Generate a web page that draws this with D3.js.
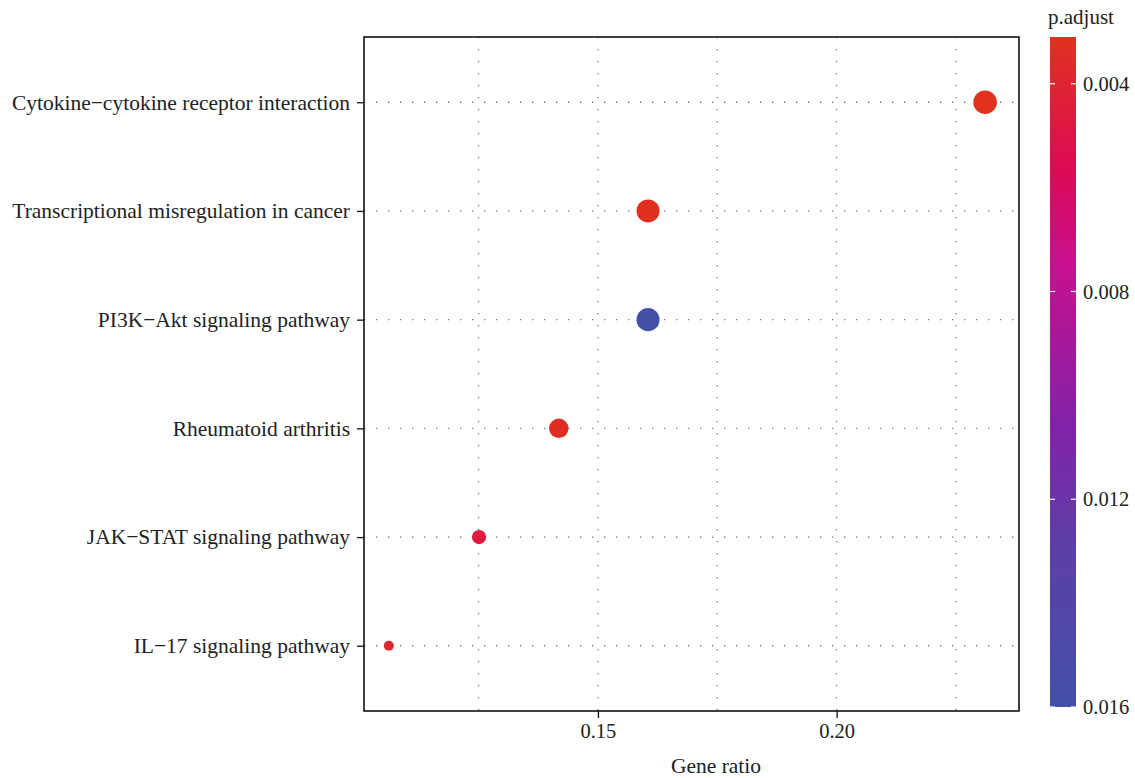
<!DOCTYPE html>
<html>
<head>
<meta charset="utf-8">
<script src="https://cdn.jsdelivr.net/npm/d3@7"></script>
<style>
  body { margin: 0; background: #fff; }
  text { font-family: "Liberation Serif", "DejaVu Serif", serif; fill: #222; }
</style>
</head>
<body>
<svg id="dotplot" width="1135" height="778"></svg>
<script>
// pathways, top to bottom
const pathways = [
  "Cytokine\u2212cytokine receptor interaction",
  "Transcriptional misregulation in cancer",
  "PI3K\u2212Akt signaling pathway",
  "Rheumatoid arthritis",
  "JAK\u2212STAT signaling pathway",
  "IL\u221217 signaling pathway"
]
const geneRatio = [0.2311, 0.1605, 0.1605, 0.1418, 0.1251, 0.1062]
const geneCount = [22, 21, 21, 15, 8, 4]
const pAdjust = [0.0031, 0.0032, 0.0160, 0.0034, 0.0046, 0.0038]
const xLimits = [0.1010, 0.2382]
const xTicks = [0.15, 0.20]
const xGrid = [0.125, 0.15, 0.175, 0.20, 0.225]
const pTicks = [0.004, 0.008, 0.012, 0.016]

const data = pathways.map((p, i) => ({
  name: p, ratio: geneRatio[i], count: geneCount[i], p: pAdjust[i]
}))

const svg = d3.select('#dotplot')
const panel = {left: 364, top: 37, right: 1019, bottom: 711}

const x = d3.scaleLinear()
  .domain(xLimits)
  .range([panel.left, panel.right])

const y = d3.scalePoint()
  .domain(pathways)
  .range([panel.top, panel.bottom])
  .padding(0.6)

const r = d3.scaleSqrt()
  .domain([0, d3.max(geneCount)])
  .range([0, 11.8])

// colour ramp red -> crimson -> magenta -> purple -> blue
const pExt = d3.extent(pAdjust)
const stopT = [0, 0.2, 0.34, 0.58, 0.75, 1]
const stopC = ["#e1321e", "#dc0a55", "#c8108f", "#8222a8", "#5e3ea8", "#4350a8"]
const color = d3.scaleLinear()
  .domain(stopT.map(t => pExt[0] + t * (pExt[1] - pExt[0])))
  .range(stopC)
  .interpolate(d3.interpolateRgb)

// grid
const grid = svg.append("g")
  .attr("stroke", "#777")
  .attr("stroke-width", 1.3)
  .attr("stroke-dasharray", "1.3,10.7")

grid.selectAll("line.v")
  .data(xGrid)
  .join("line")
  .attr("class", "v")
  .attr("x1", d => x(d)).attr("x2", d => x(d))
  .attr("y1", panel.top).attr("y2", panel.bottom)

grid.selectAll("line.h")
  .data(pathways)
  .join("line")
  .attr("class", "h")
  .attr("x1", panel.left).attr("x2", panel.right)
  .attr("y1", d => y(d)).attr("y2", d => y(d))

// points
svg.append("g")
  .selectAll("circle")
  .data(data)
  .join("circle")
  .attr("cx", d => x(d.ratio))
  .attr("cy", d => y(d.name))
  .attr("r", d => r(d.count))
  .attr("fill", d => color(d.p))

// panel border
svg.append("rect")
  .attr("x", panel.left).attr("y", panel.top)
  .attr("width", panel.right - panel.left)
  .attr("height", panel.bottom - panel.top)
  .attr("fill", "none")
  .attr("stroke", "#111")
  .attr("stroke-width", 1.6)

// x axis
const xAxis = svg.append("g")
  .attr("transform", `translate(0,${panel.bottom})`)
  .call(d3.axisBottom(x).tickValues(xTicks).tickFormat(d3.format(".2f")).tickSize(7).tickPadding(5))
xAxis.select(".domain").remove()
xAxis.selectAll(".tick line").attr("stroke", "#111").attr("stroke-width", 1.3)
xAxis.selectAll("text").style("font-size", "20.5px").attr("fill", "#222")

// y axis
const yAxis = svg.append("g")
  .attr("transform", `translate(${panel.left},0)`)
  .call(d3.axisLeft(y).tickSize(7).tickPadding(7))
yAxis.select(".domain").remove()
yAxis.selectAll(".tick line").attr("stroke", "#111").attr("stroke-width", 1.3)
yAxis.selectAll("text").style("font-size", "21.5px").attr("fill", "#222")

svg.append("text")
  .attr("x", 716).attr("y", 773)
  .attr("text-anchor", "middle")
  .style("font-size", "21.5px")
  .text("Gene ratio")

// colour bar
const bar = {x: 1050, y: 37, w: 26, h: 670}
const defs = svg.append("defs")
const grad = defs.append("linearGradient")
  .attr("id", "pgrad")
  .attr("x1", 0).attr("x2", 0).attr("y1", 0).attr("y2", 1)
grad.selectAll("stop")
  .data(d3.range(0, 1.0001, 0.02))
  .join("stop")
  .attr("offset", d => d)
  .attr("stop-color", d => color(pExt[0] + d * (pExt[1] - pExt[0])))

svg.append("rect")
  .attr("x", bar.x).attr("y", bar.y)
  .attr("width", bar.w).attr("height", bar.h)
  .attr("fill", "url(#pgrad)")

const py = d3.scaleLinear().domain(pExt).range([bar.y, bar.y + bar.h])

const tk = svg.append("g")
tk.selectAll("line.l")
  .data(pTicks)
  .join("line")
  .attr("x1", bar.x).attr("x2", bar.x + 5)
  .attr("y1", d => py(d)).attr("y2", d => py(d))
  .attr("stroke", "#fff").attr("stroke-width", 1.2)
tk.selectAll("line.r")
  .data(pTicks)
  .join("line")
  .attr("x1", bar.x + bar.w - 5).attr("x2", bar.x + bar.w)
  .attr("y1", d => py(d)).attr("y2", d => py(d))
  .attr("stroke", "#fff").attr("stroke-width", 1.2)
tk.selectAll("text")
  .data(pTicks)
  .join("text")
  .attr("x", bar.x + bar.w + 7)
  .attr("y", d => py(d))
  .attr("dy", "0.35em")
  .style("font-size", "20.5px")
  .text(d => d3.format(".3f")(d))

svg.append("text")
  .attr("x", 1048).attr("y", 24)
  .style("font-size", "21px")
  .text("p.adjust")
</script>
</body>
</html>
